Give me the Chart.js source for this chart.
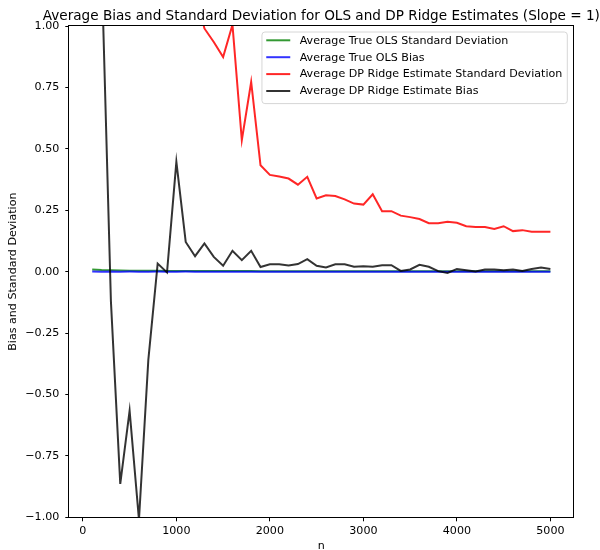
<!DOCTYPE html>
<html>
<head>
<meta charset="utf-8">
<script src="https://cdn.jsdelivr.net/npm/chart.js@4/dist/chart.umd.min.js"></script>
<style>
  html, body { margin: 0; padding: 0; background: #ffffff; }
  #wrap { width: 600px; height: 550px; }
</style>
</head>
<body>
<div id="wrap"><canvas id="c" width="600" height="550"></canvas></div>
<script>
// Sample sizes n = 100 .. 5000
const sampleSizes = [
  100, 200, 300, 400, 500, 600, 700, 800, 900, 1000,
  1100, 1200, 1300, 1400, 1500, 1600, 1700, 1800, 1900, 2000,
  2100, 2200, 2300, 2400, 2500, 2600, 2700, 2800, 2900, 3000,
  3100, 3200, 3300, 3400, 3500, 3600, 3700, 3800, 3900, 4000,
  4100, 4200, 4300, 4400, 4500, 4600, 4700, 4800, 4900, 5000
];

const olsStdDev = [
  0.0090, 0.0065, 0.0053, 0.0046, 0.0041, 0.0037, 0.0035, 0.0033, 0.0031, 0.0029,
  0.0028, 0.0027, 0.0026, 0.0025, 0.0024, 0.0023, 0.0022, 0.0022, 0.0021, 0.0021,
  0.0020, 0.0020, 0.0019, 0.0019, 0.0018, 0.0018, 0.0018, 0.0017, 0.0017, 0.0017,
  0.0016, 0.0016, 0.0016, 0.0016, 0.0015, 0.0015, 0.0015, 0.0015, 0.0015, 0.0014,
  0.0014, 0.0014, 0.0014, 0.0014, 0.0013, 0.0013, 0.0013, 0.0013, 0.0013, 0.0013
];

const olsBias = [
  0.0006, -0.0004, 0.0003, -0.0002, 0.0002, 0.0001, -0.0003, 0.0002, -0.0001, 0.0001,
  0.0002, -0.0001, 0.0000, 0.0001, -0.0002, 0.0001, 0.0000, -0.0001, 0.0001, 0.0000,
  0.0001, 0.0000, -0.0001, 0.0001, 0.0000, 0.0001, -0.0001, 0.0000, 0.0001, 0.0000,
  0.0000, 0.0001, -0.0001, 0.0000, 0.0001, 0.0000, 0.0000, -0.0001, 0.0000, 0.0001,
  0.0000, 0.0000, 0.0001, 0.0000, -0.0001, 0.0000, 0.0000, 0.0001, 0.0000, 0.0000
];

const ridgeStdDev = [
  6.80, 4.10, 3.30, 2.90, 2.50, 2.20, 1.90, 1.70, 1.60, 1.45,
  1.30, 1.15, 0.99, 0.935, 0.874, 1.005, 0.535, 0.772, 0.433, 0.394,
  0.387, 0.379, 0.354, 0.386, 0.298, 0.311, 0.308, 0.294, 0.277, 0.273,
  0.315, 0.246, 0.246, 0.228, 0.222, 0.214, 0.197, 0.197, 0.203, 0.199,
  0.185, 0.182, 0.182, 0.174, 0.185, 0.165, 0.169, 0.162, 0.162, 0.162
];

const ridgeBias = [
  2.40, 1.25, -0.12, -0.864, -0.566, -1.01, -0.36, 0.033, -0.003, 0.447,
  0.121, 0.063, 0.115, 0.060, 0.024, 0.085, 0.047, 0.085, 0.019, 0.030,
  0.030, 0.025, 0.031, 0.051, 0.024, 0.017, 0.030, 0.030, 0.020, 0.022,
  0.020, 0.026, 0.026, 0.003, 0.009, 0.028, 0.020, 0.002, -0.005, 0.011,
  0.006, 0.001, 0.009, 0.009, 0.006, 0.009, 0.003, 0.011, 0.017, 0.011
];

const xTickValues = [0, 1000, 2000, 3000, 4000, 5000];
const seriesLabels = [
  'Average True OLS Standard Deviation',
  'Average True OLS Bias',
  'Average DP Ridge Estimate Standard Deviation',
  'Average DP Ridge Estimate Bias'
];
const chartTitle = 'Average Bias and Standard Deviation for OLS and DP Ridge Estimates (Slope = 1)';

const FONT = 'DejaVu Sans';
const BASE = 11.1;
const LINE_W = 2;
const seriesColors = [
  'rgba(0,128,0,0.8)',
  'rgba(0,0,255,0.8)',
  'rgba(255,0,0,0.85)',
  'rgba(0,0,0,0.8)'
];

function toPoints(ys) {
  return sampleSizes.map((n, i) => ({ x: n, y: ys[i] }));
}

// later series are painted on top of earlier ones
const seriesValues = [olsStdDev, olsBias, ridgeStdDev, ridgeBias];
const datasets = seriesValues.map((vals, i) => ({
  label: seriesLabels[i],
  data: toPoints(vals),
  borderColor: seriesColors[i],
  backgroundColor: seriesColors[i],
  borderWidth: LINE_W,
  pointRadius: 0,
  tension: 0,
  fill: false,
  clip: 0,
  order: seriesValues.length - i
}));

// Box around the plotting area
const framePlugin = {
  id: 'frame',
  afterDatasetsDraw(chart) {
    const { ctx, chartArea: a } = chart;
    ctx.save();
    ctx.strokeStyle = '#000';
    ctx.lineWidth = 1;
    ctx.strokeRect(Math.round(a.left) - 0.5, Math.round(a.top) - 0.5,
                   Math.round(a.right - a.left) + 1, Math.round(a.bottom - a.top) + 1);
    ctx.restore();
  }
};

// Title centred over the plotting area
const titlePlugin = {
  id: 'plotTitle',
  afterDraw(chart) {
    const { ctx, chartArea: a } = chart;
    ctx.save();
    ctx.font = '13.6px "' + FONT + '"';
    ctx.fillStyle = '#000';
    ctx.textAlign = 'center';
    ctx.textBaseline = 'alphabetic';
    ctx.fillText(chartTitle, (a.left + a.right) / 2, a.top - 6.5);
    ctx.restore();
  }
};

// Legend box in the upper right corner of the plotting area
const insetLegend = {
  id: 'insetLegend',
  afterDraw(chart) {
    const { ctx, chartArea: a } = chart;
    const sets = chart.data.datasets;
    ctx.save();
    ctx.font = BASE + 'px "' + FONT + '"';
    let maxW = 0;
    sets.forEach(d => { maxW = Math.max(maxW, ctx.measureText(d.label).width); });
    const boxRight = a.right - 6;
    const boxTop = a.top + 6;
    const textX = boxRight - 5 - maxW;
    const boxLeft = textX - 37.7;
    const rowH = 16.9;
    const boxH = 71.6;
    const r = 3;
    ctx.beginPath();
    ctx.moveTo(boxLeft + r, boxTop);
    ctx.arcTo(boxRight, boxTop, boxRight, boxTop + boxH, r);
    ctx.arcTo(boxRight, boxTop + boxH, boxLeft, boxTop + boxH, r);
    ctx.arcTo(boxLeft, boxTop + boxH, boxLeft, boxTop, r);
    ctx.arcTo(boxLeft, boxTop, boxRight, boxTop, r);
    ctx.closePath();
    ctx.fillStyle = 'rgba(255,255,255,0.8)';
    ctx.fill();
    ctx.strokeStyle = '#d6d6d6';
    ctx.lineWidth = 1;
    ctx.stroke();
    sets.forEach((d, i) => {
      const y = boxTop + 8.3 + i * rowH;
      ctx.beginPath();
      ctx.moveTo(textX - 33.4, y);
      ctx.lineTo(textX - 9.4, y);
      ctx.strokeStyle = d.borderColor;
      ctx.lineWidth = LINE_W;
      ctx.stroke();
      ctx.fillStyle = '#000';
      ctx.textAlign = 'left';
      ctx.textBaseline = 'middle';
      ctx.fillText(d.label, textX, y + 0.5);
    });
    ctx.restore();
  }
};

const minusSign = v => (v < 0 ? '\u2212' : '');

new Chart(document.getElementById('c'), {
  type: 'line',
  data: { datasets },
  plugins: [framePlugin, titlePlugin, insetLegend],
  options: {
    responsive: false,
    animation: false,
    devicePixelRatio: 1,
    layout: { padding: { top: 26, right: 26.7, left: 0, bottom: 0 } },
    plugins: {
      legend: { display: false },
      title: { display: false },
      tooltip: { enabled: false }
    },
    scales: {
      x: {
        type: 'linear',
        min: -145,
        max: 5245,
        afterBuildTicks(scale) { scale.ticks = xTickValues.map(v => ({ value: v })); },
        afterFit(scale) { scale.height = 32.7; },
        ticks: {
          color: '#000',
          font: { family: FONT, size: BASE },
          padding: 3,
          maxRotation: 0,
          autoSkip: false,
          callback: v => String(v)
        },
        grid: { display: true, drawOnChartArea: false, drawTicks: true, tickLength: 4, color: '#000', lineWidth: 1 },
        border: { display: false },
        title: { display: true, text: 'n', color: '#000', font: { family: FONT, size: BASE, lineHeight: 0.75 }, padding: { top: 0, bottom: 0 } }
      },
      y: {
        type: 'linear',
        min: -1,
        max: 1,
        afterFit(scale) { scale.width = 69.3; },
        ticks: {
          stepSize: 0.25,
          color: '#000',
          font: { family: FONT, size: BASE },
          padding: 6,
          callback: v => minusSign(v) + Math.abs(v).toFixed(2)
        },
        grid: { display: true, drawOnChartArea: false, drawTicks: true, tickLength: 4, color: '#000', lineWidth: 1 },
        border: { display: false },
        title: { display: true, text: 'Bias and Standard Deviation', color: '#000', font: { family: FONT, size: BASE }, padding: { top: 6, bottom: 0 } }
      }
    }
  }
});
</script>
</body>
</html>
